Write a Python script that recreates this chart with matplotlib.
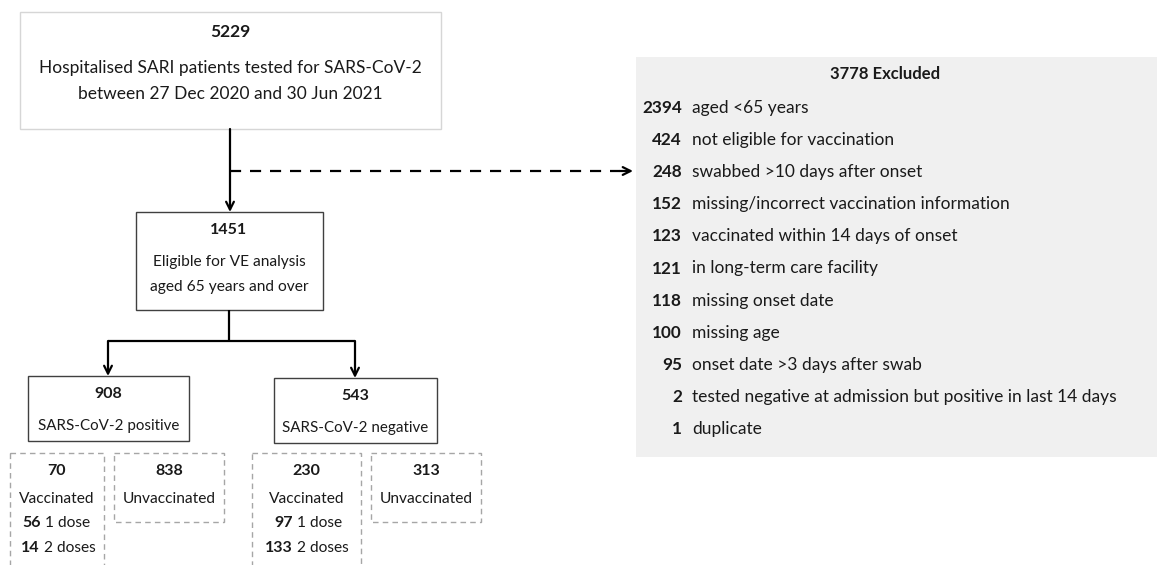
import matplotlib.pyplot as plt
from matplotlib.patches import Rectangle

plt.rcParams['font.family'] = ['Lato', 'DejaVu Sans']

# data
total_tested = 5229
total_label = ["Hospitalised SARI patients tested for SARS-CoV-2",
               "between 27 Dec 2020 and 30 Jun 2021"]
excluded_total = 3778
excluded_counts = [2394, 424, 248, 152, 123, 121, 118, 100, 95, 2, 1]
excluded_reasons = ["aged <65 years",
                    "not eligible for vaccination",
                    "swabbed >10 days after onset",
                    "missing/incorrect vaccination information",
                    "vaccinated within 14 days of onset",
                    "in long-term care facility",
                    "missing onset date",
                    "missing age",
                    "onset date >3 days after swab",
                    "tested negative at admission but positive in last 14 days",
                    "duplicate"]
eligible = 1451
eligible_label = ["Eligible for VE analysis", "aged 65 years and over"]
result_counts = [908, 543]
result_labels = ["SARS-CoV-2 positive", "SARS-CoV-2 negative"]
vaccinated = [70, 230]
unvaccinated = [838, 313]
one_dose = [56, 97]
two_doses = [14, 133]

TXT = '#1a1a1a'

fig = plt.figure(figsize=(11.57, 5.65), dpi=100)
ax = fig.add_axes([0, 0, 1, 1])
ax.set_xlim(0, 1157)
ax.set_ylim(565, 0)
ax.axis('off')


def box(x0, y0, x1, y1, ec, ls='-', lw=1.0, fc='white'):
    ax.add_patch(Rectangle((x0, y0), x1 - x0, y1 - y0, fc=fc, ec=ec,
                           ls=ls, lw=lw, clip_on=False))


def txt(x, y, s, bold=False, ha='center', fs=11.5):
    return ax.text(x, y, s, ha=ha, va='center', fontsize=fs, color=TXT,
                   fontweight='bold' if bold else 'normal')


def arrow(x0, y0, x1, y1):
    ax.annotate('', xy=(x1, y1), xytext=(x0, y0),
                arrowprops=dict(arrowstyle='->', lw=1.6, color='black',
                                shrinkA=0, shrinkB=0, mutation_scale=14))


def line(xs, ys, ls='-'):
    ax.plot(xs, ys, color='black', lw=1.6, ls=ls, solid_capstyle='butt')


# top box
box(20, 12, 441, 129, ec='#d6d6d6')
txt(230, 32, str(total_tested), bold=True, fs=12.5)
txt(230, 68, total_label[0], fs=12.5)
txt(230, 94, total_label[1], fs=12.5)

# main arrow + excluded arrow
arrow(230, 129, 230, 212)
line([230, 620], [171, 171], ls=(0, (5, 4)))
arrow(620, 171, 633, 171)

# excluded box
box(636, 57, 1157, 457, ec='none', fc='#f0f0f0')
txt(885, 74, f"{excluded_total} Excluded", bold=True, fs=12)
row_y = 108
for n, reason in zip(excluded_counts, excluded_reasons):
    txt(682, row_y, str(n), bold=True, ha='right', fs=12.3)
    txt(692, row_y, reason, ha='left', fs=12.5)
    row_y += 32.1

# eligible box
box(136, 212, 323, 310, ec='#404040')
txt(229, 230, str(eligible), bold=True, fs=11.5)
txt(229, 262, eligible_label[0], fs=11.2)
txt(229, 287, eligible_label[1], fs=11.2)

# branches
line([229, 229], [310, 341])
line([108, 355], [341, 341])
arrow(108, 341, 108, 376)
arrow(355, 341, 355, 378)

# positive / negative boxes
res_boxes = [(28, 376, 189, 441), (274, 378, 437, 443)]
for (x0, y0, x1, y1), n, lab in zip(res_boxes, result_counts, result_labels):
    box(x0, y0, x1, y1, ec='#404040')
    cx = (x0 + x1) / 2
    txt(cx, y0 + 18, str(n), bold=True, fs=11.5)
    txt(cx, y0 + 50, lab, fs=10.9)

# vaccination boxes
vac_boxes = [(10, 104), (252, 361)]
unvac_boxes = [(114, 224), (371, 481)]
dose_split = [(41, 40), (293, 293)]
for i in range(2):
    x0, x1 = vac_boxes[i]
    box(x0, 453, x1, 600, ec='#a6a6a6', ls=(0, (4, 3)))
    cx = (x0 + x1) / 2
    txt(cx, 471, str(vaccinated[i]), bold=True)
    txt(cx, 499, "Vaccinated", fs=11.2)
    s1, s2 = dose_split[i]
    txt(s1, 523, str(one_dose[i]), bold=True, ha='right')
    txt(s1 + 4, 523, "1 dose", ha='left', fs=11.2)
    txt(s2, 548, str(two_doses[i]), bold=True, ha='right')
    txt(s2 + 4, 548, "2 doses", ha='left', fs=11.2)

    u0, u1 = unvac_boxes[i]
    box(u0, 453, u1, 522, ec='#a6a6a6', ls=(0, (4, 3)))
    ux = (u0 + u1) / 2
    txt(ux, 471, str(unvaccinated[i]), bold=True)
    txt(ux, 499, "Unvaccinated", fs=11.2)

fig.savefig('out.png', dpi=100)
